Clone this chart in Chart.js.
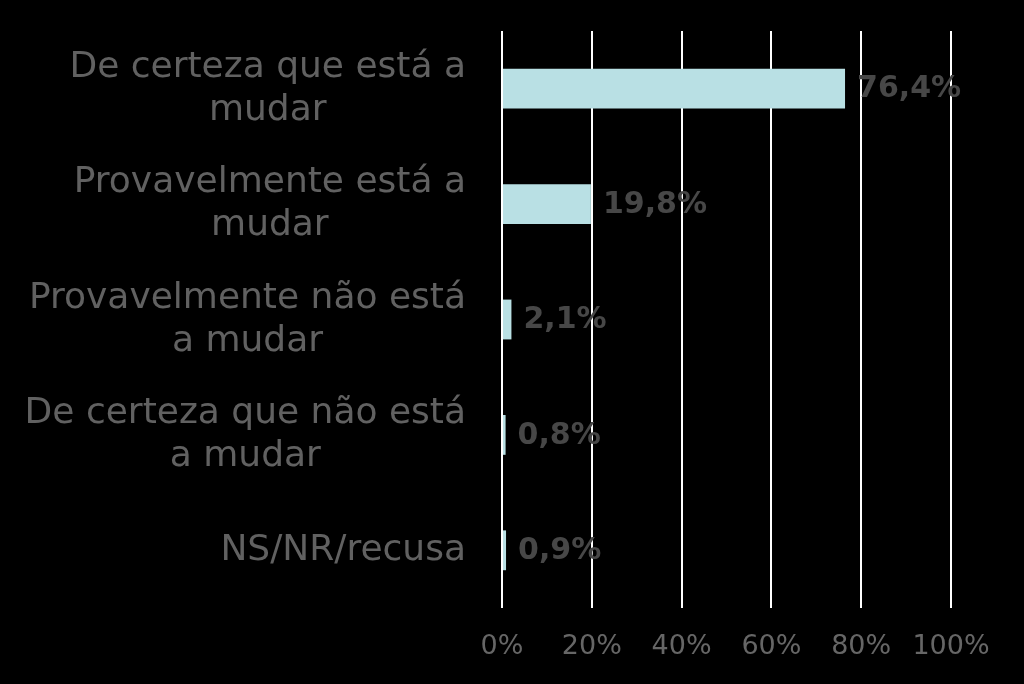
<!DOCTYPE html>
<html>
<head>
<meta charset="utf-8">
<script src="https://cdn.jsdelivr.net/npm/chart.js@4/dist/chart.umd.min.js"></script>
<style>
html,body{margin:0;padding:0;background:#000;}
#wrap{width:1024px;height:684px;}
</style>
</head>
<body>
<div id="wrap"><canvas id="c" width="1024" height="684"></canvas></div>
<script>
const categories = [
  ["De certeza que está a", "mudar"],
  ["Provavelmente está a", "mudar"],
  ["Provavelmente não está", "a mudar"],
  ["De certeza que não está", "a mudar"],
  ["NS/NR/recusa"]
];
const values = [76.4, 19.8, 2.1, 0.8, 0.9];
const valueLabels = ["76,4%", "19,8%", "2,1%", "0,8%", "0,9%"];
const tickValues = [0, 20, 40, 60, 80, 100];

const FONT = "'DejaVu Sans', Verdana, sans-serif";

const catLabelPlugin = {
  id: 'catLabels',
  afterDraw(chart) {
    const ctx = chart.ctx;
    const y = chart.scales.y;
    ctx.save();
    ctx.font = "36px " + FONT;
    ctx.fillStyle = "#616161";
    ctx.textBaseline = "middle";
    ctx.textAlign = "center";
    const right = chart.chartArea.left - 36;
    const lh = 43;
    categories.forEach((lines, i) => {
      const cy = y.getPixelForValue(i) + 0.5;
      let widest = 0;
      lines.forEach(l => { widest = Math.max(widest, ctx.measureText(l).width); });
      const cx = right - widest / 2;
      const startY = cy - (lines.length - 1) * lh / 2;
      lines.forEach((l, j) => ctx.fillText(l, cx, startY + j * lh));
    });
    ctx.restore();
  }
};

const valueLabelPlugin = {
  id: 'valueLabels',
  afterDatasetsDraw(chart) {
    const ctx = chart.ctx;
    const meta = chart.getDatasetMeta(0);
    ctx.save();
    ctx.font = "bold 30px " + FONT;
    ctx.fillStyle = "#474747";
    ctx.textBaseline = "middle";
    ctx.textAlign = "left";
    meta.data.forEach((bar, i) => {
      ctx.fillText(valueLabels[i], bar.x + 12, bar.y + 1);
    });
    ctx.restore();
  }
};

new Chart(document.getElementById('c'), {
  type: 'bar',
  data: {
    labels: categories.map(c => c.join(' ')),
    datasets: [{
      data: values,
      backgroundColor: '#b9e0e4',
      borderWidth: 0,
      barPercentage: 0.69,
      categoryPercentage: 0.5
    }]
  },
  options: {
    indexAxis: 'y',
    responsive: false,
    animation: false,
    devicePixelRatio: 1,
    layout: { padding: { top: 31, right: 73, bottom: 0, left: 0 } },
    plugins: { legend: { display: false }, tooltip: { enabled: false } },
    scales: {
      x: {
        min: 0, max: 100,
        afterBuildTicks(scale) { scale.ticks = tickValues.map(v => ({ value: v })); },
        afterFit(scale) { scale.height = 76; },
        grid: { color: '#ffffff', lineWidth: 2, drawTicks: false },
        border: { display: false },
        ticks: {
          padding: 23,
          color: '#666666',
          font: { family: FONT, size: 27 },
          callback: v => v + '%'
        }
      },
      y: {
        afterFit(scale) { scale.width = 502; },
        grid: { display: false },
        border: { display: false },
        ticks: { display: false }
      }
    }
  },
  plugins: [catLabelPlugin, valueLabelPlugin]
});
</script>
</body>
</html>
